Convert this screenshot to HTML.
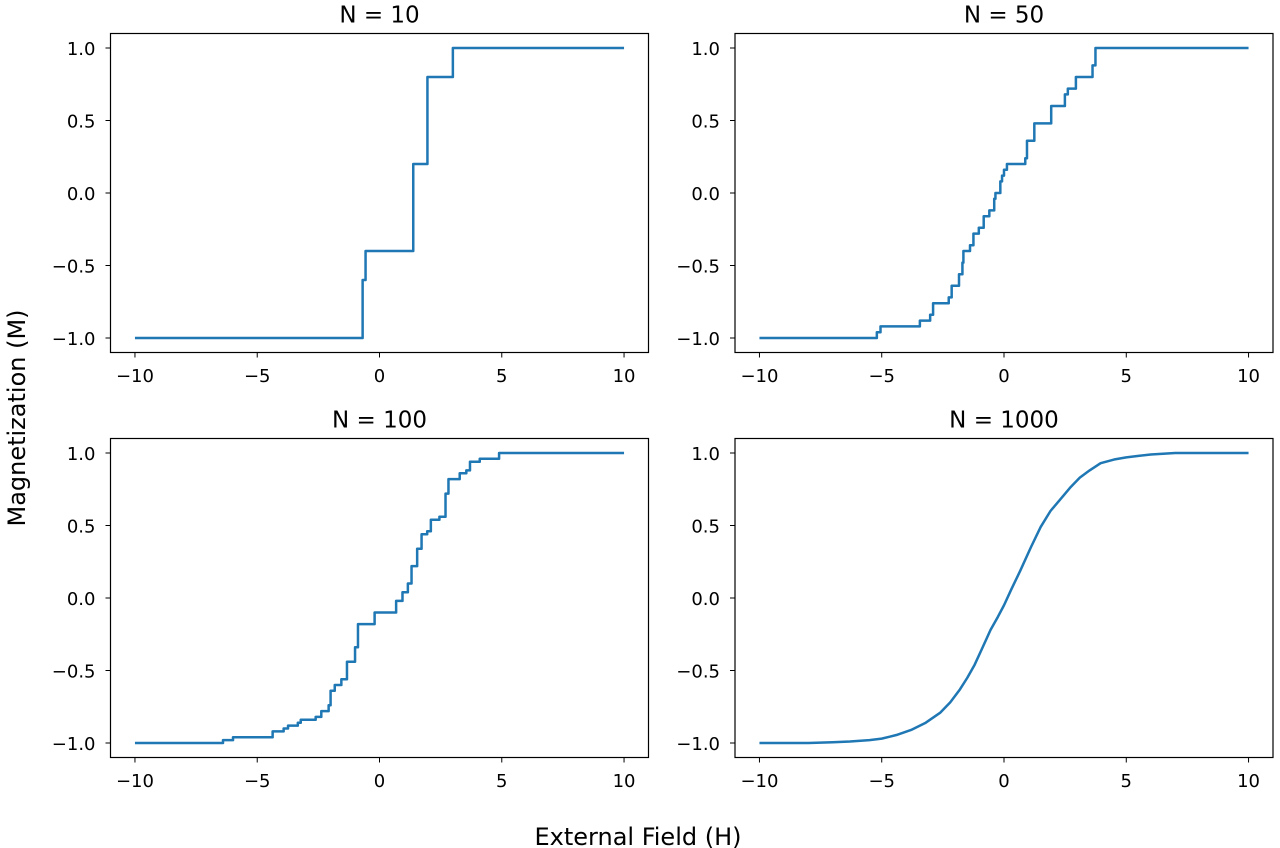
<!DOCTYPE html>
<html><head><meta charset="utf-8"><style>
html,body{margin:0;padding:0;background:#fff;}
svg{display:block;font-family:"DejaVu Sans","Liberation Sans",sans-serif;}
</style></head><body>
<svg id="fig" width="1280" height="848" viewBox="0 0 1280 848">
<text x="638" y="845" text-anchor="middle" font-size="24" fill="#000">External Field (H)</text>
<text transform="translate(25,418) rotate(-90)" text-anchor="middle" font-size="24" fill="#000">Magnetization (M)</text>
</svg>
<script>
// N=10 steps: field where switch occurs, magnetization after switch
const n10Fields = [-0.69, -0.57, 1.38, 1.96, 3.0];
const n10Mag = [-0.6, -0.4, 0.2, 0.8, 1.0];
// N=50
const n50Fields = [-5.2,-5.05,-3.44,-3.02,-2.9,-2.26,-2.14,-1.84,-1.7,-1.66,-1.39,-1.25,-1.03,-0.83,-0.6,-0.4,-0.35,-0.15,-0.08,0,0.12,0.87,0.94,1.24,1.93,2.49,2.61,2.94,3.62,3.74];
const n50Mag = [-0.96,-0.92,-0.88,-0.84,-0.76,-0.72,-0.64,-0.56,-0.48,-0.4,-0.36,-0.28,-0.24,-0.16,-0.12,-0.04,0.0,0.08,0.12,0.16,0.2,0.24,0.36,0.48,0.6,0.68,0.72,0.8,0.88,1.0];
// N=100
const n100Fields = [-6.4,-5.99,-4.37,-3.92,-3.74,-3.34,-3.22,-2.61,-2.38,-2.08,-2.0,-1.83,-1.56,-1.33,-1.0,-0.88,-0.2,0.68,0.94,1.16,1.31,1.54,1.72,1.95,2.1,2.45,2.7,2.82,3.28,3.55,3.7,4.1,4.89];
const n100Mag = [-0.98,-0.96,-0.92,-0.9,-0.88,-0.86,-0.84,-0.82,-0.78,-0.74,-0.64,-0.6,-0.56,-0.44,-0.34,-0.18,-0.1,-0.02,0.04,0.1,0.22,0.34,0.44,0.46,0.54,0.56,0.72,0.82,0.86,0.88,0.94,0.96,1.0];
// N=1000 (smooth curve samples)
const n1000Fields = [-10,-8,-7,-6.3,-5.5,-5,-4.4,-3.8,-3.2,-2.6,-2.2,-1.8,-1.5,-1.2,-0.9,-0.55,-0.25,0,0.3,0.67,1.1,1.5,1.9,2.3,2.7,3.1,3.5,3.95,4.5,5,5.5,6,7,10];
const n1000Mag = [-1,-1,-0.995,-0.99,-0.98,-0.97,-0.945,-0.91,-0.86,-0.79,-0.72,-0.63,-0.55,-0.46,-0.35,-0.22,-0.13,-0.05,0.06,0.19,0.35,0.49,0.6,0.68,0.76,0.83,0.88,0.93,0.955,0.97,0.98,0.99,1.0,1.0];
const xTicks = [-10,-5,0,5,10];
const yTicks = [-1.0,-0.5,0.0,0.5,1.0];
const titles = ["N = 10","N = 50","N = 100","N = 1000"];

const NS="http://www.w3.org/2000/svg";
const svg=document.getElementById('fig');
const panels=[
 {l:110.5,r:648.5,t:33.5,b:352.5,f:n10Fields,m:n10Mag,step:true},
 {l:735,r:1273,t:33.5,b:352.5,f:n50Fields,m:n50Mag,step:true},
 {l:110.5,r:648.5,t:438.5,b:757.5,f:n100Fields,m:n100Mag,step:true},
 {l:735,r:1273,t:438.5,b:757.5,f:n1000Fields,m:n1000Mag,step:false}
];
function mk(tag,attrs){const e=document.createElementNS(NS,tag);for(const k in attrs)e.setAttribute(k,attrs[k]);return e;}
const fmt=v=>(v<0?"\u2212":"")+Math.abs(v).toFixed(1);
const fmtI=v=>(v<0?"\u2212":"")+Math.abs(v);
panels.forEach((p,i)=>{
 const g=mk('g',{});
 
 
 svg.appendChild(g);
 const sx=h=>p.l+(h+11)/22*(p.r-p.l);
 const sy=m=>p.b-(m+1.1)/2.2*(p.b-p.t);
 let d='M'+sx(-10)+','+sy(-1);
 if(p.step){
  let cur=-1;
  p.f.forEach((h,j)=>{d+=' L'+sx(h)+','+sy(cur)+' L'+sx(h)+','+sy(p.m[j]);cur=p.m[j];});
  d+=' L'+sx(10)+','+sy(cur);
 } else {
  d='M'+p.f.map((h,j)=>sx(h)+','+sy(p.m[j])).join(' L');
 }
 const line=mk('path',{d:d,fill:'none',stroke:'#1f77b4','stroke-width':2.5,'stroke-linejoin':'round'});
 
 
 g.appendChild(line);
 const box=mk('rect',{x:p.l,y:p.t,width:p.r-p.l,height:p.b-p.t,fill:'none',stroke:'#000','stroke-width':1.2});
 
 
 g.appendChild(box);
 xTicks.forEach(v=>{
  const x=sx(v);
  g.appendChild(mk('line',{x1:x,x2:x,y1:p.b,y2:p.b+5,stroke:'#000','stroke-width':1}));
  const t=mk('text',{x:x,y:p.b+29.5,'text-anchor':'middle','font-size':18,fill:'#000'});
  t.textContent=fmtI(v);
  
  
  g.appendChild(t);
 });
 yTicks.forEach(v=>{
  const y=sy(v);
  g.appendChild(mk('line',{x1:p.l-5,x2:p.l,y1:y,y2:y,stroke:'#000','stroke-width':1}));
  const t=mk('text',{x:p.l-15,y:y+7,'text-anchor':'end','font-size':18,fill:'#000'});
  t.textContent=fmt(v);
  
  
  g.appendChild(t);
 });
 const tt=mk('text',{x:(p.l+p.r)/2,y:p.t-11,'text-anchor':'middle','font-size':23,fill:'#000'});
 tt.textContent=titles[i];
 
 
 g.appendChild(tt);
});
</script>
</body></html>
